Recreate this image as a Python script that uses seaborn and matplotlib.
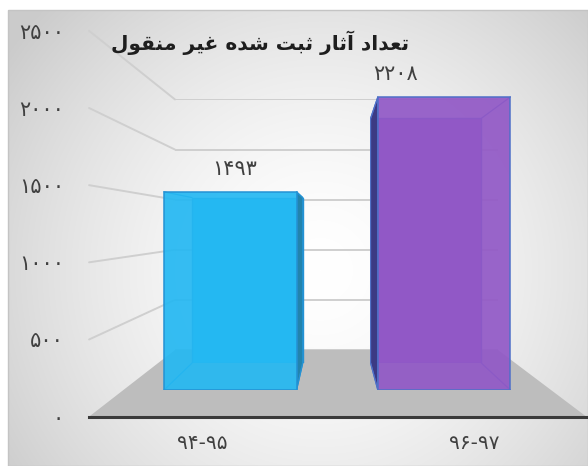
import numpy as np
import pandas as pd
import matplotlib
matplotlib.use("Agg")
import matplotlib.pyplot as plt
import seaborn as sns
from matplotlib.patches import Polygon, Rectangle

# data
categories = ["۹۴-۹۵", "۹۶-۹۷"]
values = [1493, 2208]
value_labels = ["۱۴۹۳", "۲۲۰۸"]
tick_values = [0, 500, 1000, 1500, 2000, 2500]
tick_labels = ["۰", "۵۰۰", "۱۰۰۰", "۱۵۰۰", "۲۰۰۰", "۲۵۰۰"]
title = "تعداد آثار ثبت شده غیر منقول"

# style
bar_colors = ["#24b8f2", "#9158c6"]
side_colors = ["#2283ad", "#3c3a84"]
edge_colors = ["#2492d4", "#4f70c8"]
label_offsets = [(4, 13), (-49, 13)]  # pixels from bar top centre

W, H = 588, 466
VX, VY = 334, 226.5              # vanishing point (pixels)
FRONT = (123.4, 551.0, 58.25, 390.0)  # bar front plane: x0, x1, ytop, ybottom


def shape_rtl(text):
    """Minimal Persian shaping: pick presentation forms, then reverse for RTL."""
    forms = {
        "ا": ("\uFE8D", "\uFE8E", None, None),
        "آ": ("\uFE81", "\uFE82", None, None),
        "ب": ("\uFE8F", "\uFE90", "\uFE91", "\uFE92"),
        "ت": ("\uFE95", "\uFE96", "\uFE97", "\uFE98"),
        "ث": ("\uFE99", "\uFE9A", "\uFE9B", "\uFE9C"),
        "د": ("\uFEA9", "\uFEAA", None, None),
        "ر": ("\uFEAD", "\uFEAE", None, None),
        "ش": ("\uFEB5", "\uFEB6", "\uFEB7", "\uFEB8"),
        "ع": ("\uFEC9", "\uFECA", "\uFECB", "\uFECC"),
        "غ": ("\uFECD", "\uFECE", "\uFECF", "\uFED0"),
        "ق": ("\uFED5", "\uFED6", "\uFED7", "\uFED8"),
        "ل": ("\uFEDD", "\uFEDE", "\uFEDF", "\uFEE0"),
        "م": ("\uFEE1", "\uFEE2", "\uFEE3", "\uFEE4"),
        "ن": ("\uFEE5", "\uFEE6", "\uFEE7", "\uFEE8"),
        "ه": ("\uFEE9", "\uFEEA", "\uFEEB", "\uFEEC"),
        "و": ("\uFEED", "\uFEEE", None, None),
        "ی": ("\uFEEF", "\uFEF0", "\uFEF3", "\uFEF4"),
    }
    out = []
    for i, ch in enumerate(text):
        if ch not in forms:
            out.append(ch)
            continue
        prev = text[i - 1] if i > 0 else ""
        nxt = text[i + 1] if i + 1 < len(text) else ""
        iso, fin, ini, med = forms[ch]
        j_prev = prev in forms and forms[prev][2] is not None
        j_next = ini is not None and nxt in forms
        if j_prev and j_next:
            out.append(med)
        elif j_prev:
            out.append(fin)
        elif j_next:
            out.append(ini)
        else:
            out.append(iso)
    return "".join(reversed(out))


sns.set_theme(style="white")
plt.rcParams["font.family"] = ["DejaVu Sans"]

fig = plt.figure(figsize=(W / 100, H / 100), dpi=100)

# background gradient + frame
bg = fig.add_axes([0, 0, 1, 1], zorder=-10)
yy, xx = np.mgrid[0:H, 0:W]
d = np.sqrt(((xx - 320) / 330.0) ** 2 + ((yy - 270) / 330.0) ** 2)
shade = 1 - 0.16 * np.clip(d, 0, 1.15) ** 1.6
shade[(xx < 8) | (yy < 10)] = 1.0
bg.imshow(np.dstack([shade] * 3), extent=[0, W, H, 0], aspect="auto")
bg.add_patch(Rectangle((8, 10), W - 8, H - 10, fill=False, ec="#c4c4c4", lw=1))
bg.set_xlim(0, W)
bg.set_ylim(H, 0)
bg.axis("off")


def plane_axes(s, z):
    x0 = VX + s * (FRONT[0] - VX)
    x1 = VX + s * (FRONT[1] - VX)
    yt = VY + s * (FRONT[2] - VY)
    yb = VY + s * (FRONT[3] - VY)
    ax = fig.add_axes([x0 / W, 1 - yb / H, (x1 - x0) / W, (yb - yt) / H], zorder=z)
    ax.patch.set_alpha(0)
    ax.set_xlim(-0.5, len(categories) - 0.5)
    ax.set_ylim(tick_values[0], tick_values[-1])
    return ax


def convert(pt, src, dst):
    return dst.transData.inverted().transform(src.transData.transform(pt))


ax_wall = plane_axes(0.755, -5)
ax_axis = plane_axes(1.163, -4)
ax_lbl = plane_axes(1.27, -3)
ax_back = plane_axes(0.835, 2)
ax_front = plane_axes(1.0, 3)

# back wall gridlines
for v in tick_values:
    ax_wall.axhline(v, color="#cfcfcf", lw=1.4)
ax_wall.axis("off")

# floor and side-wall connectors
xl, xr = ax_axis.get_xlim()
floor = [(xl, 0), (xr, 0), convert((xr, 0), ax_wall, ax_axis), convert((xl, 0), ax_wall, ax_axis)]
ax_axis.add_patch(Polygon(floor, closed=True, fc="#bdbdbd", ec="none", clip_on=False))
for v in tick_values[1:]:
    bx, by = convert((xl, v), ax_wall, ax_axis)
    ax_axis.plot([xl, bx], [v, by], color="#cfcfcf", lw=1.4, clip_on=False)

ax_axis.set_yticks(tick_values)
ax_axis.set_yticklabels(tick_labels)
ax_axis.set_xticks([])
ax_axis.tick_params(axis="y", length=0, pad=18, labelsize=15, labelcolor="#404040")
for side in ["top", "right", "left"]:
    ax_axis.spines[side].set_visible(False)
ax_axis.spines["bottom"].set_color("#3a3a3a")
ax_axis.spines["bottom"].set_linewidth(2.2)
ax_axis.set_xlabel("")
ax_axis.set_ylabel("")

ax_lbl.set_xticks(range(len(categories)))
ax_lbl.set_xticklabels(categories)
ax_lbl.set_yticks([])
ax_lbl.tick_params(axis="x", length=0, pad=0, labelsize=14.5, labelcolor="#404040")
for side in ax_lbl.spines:
    ax_lbl.spines[side].set_visible(False)

# bars: back face and front face
df = pd.DataFrame({"period": categories, "count": values})
for ax in (ax_back, ax_front):
    sns.barplot(data=df, x="period", y="count", hue="period", palette=bar_colors,
                width=0.62, saturation=1, ax=ax, legend=False)
    ax.set_xlim(-0.5, len(categories) - 0.5)
    ax.set_ylim(tick_values[0], tick_values[-1])
    ax.axis("off")

for i, (fp, bp) in enumerate(zip(ax_front.patches, ax_back.patches)):
    fx, fw, fh = fp.get_x(), fp.get_width(), fp.get_height()
    bx0, by0 = convert((bp.get_x(), 0), ax_back, ax_front)
    bx1, by1 = convert((bp.get_x() + bp.get_width(), bp.get_height()), ax_back, ax_front)
    bp.set_edgecolor(edge_colors[i])
    bp.set_linewidth(1)
    centre_px = ax_front.transData.transform((fx + fw / 2, 0))[0]
    if centre_px < VX:
        side = [(fx + fw, 0), (fx + fw, fh), (bx1, by1), (bx1, by0)]
    else:
        side = [(fx, 0), (fx, fh), (bx0, by1), (bx0, by0)]
    ax_front.add_patch(Polygon(side, closed=True, fc=side_colors[i], ec=edge_colors[i],
                               lw=0.8, zorder=1))
    # box edges linking front and back corners
    for (cx, cy), (dx, dy) in [((fx, 0), (bx0, by0)), ((fx + fw, 0), (bx1, by0)),
                               ((fx, fh), (bx0, by1)), ((fx + fw, fh), (bx1, by1))]:
        ax_front.plot([cx, dx], [cy, dy], color=edge_colors[i], lw=0.9, zorder=1.5)
    fp.set_alpha(0.92)
    fp.set_edgecolor(edge_colors[i])
    fp.set_linewidth(1.2)
    fp.set_zorder(2)
    ax_front.annotate(value_labels[i], (fx + fw / 2, fh), xytext=label_offsets[i],
                      textcoords="offset pixels", ha="center", va="bottom",
                      fontsize=15, color="#404040", annotation_clip=False)

fig.text(260 / W, 1 - 43 / H, shape_rtl(title), ha="center", va="center",
         fontsize=14.5, fontweight="bold", color="#1e1e1e")

fig.savefig("out.png", dpi=100)
